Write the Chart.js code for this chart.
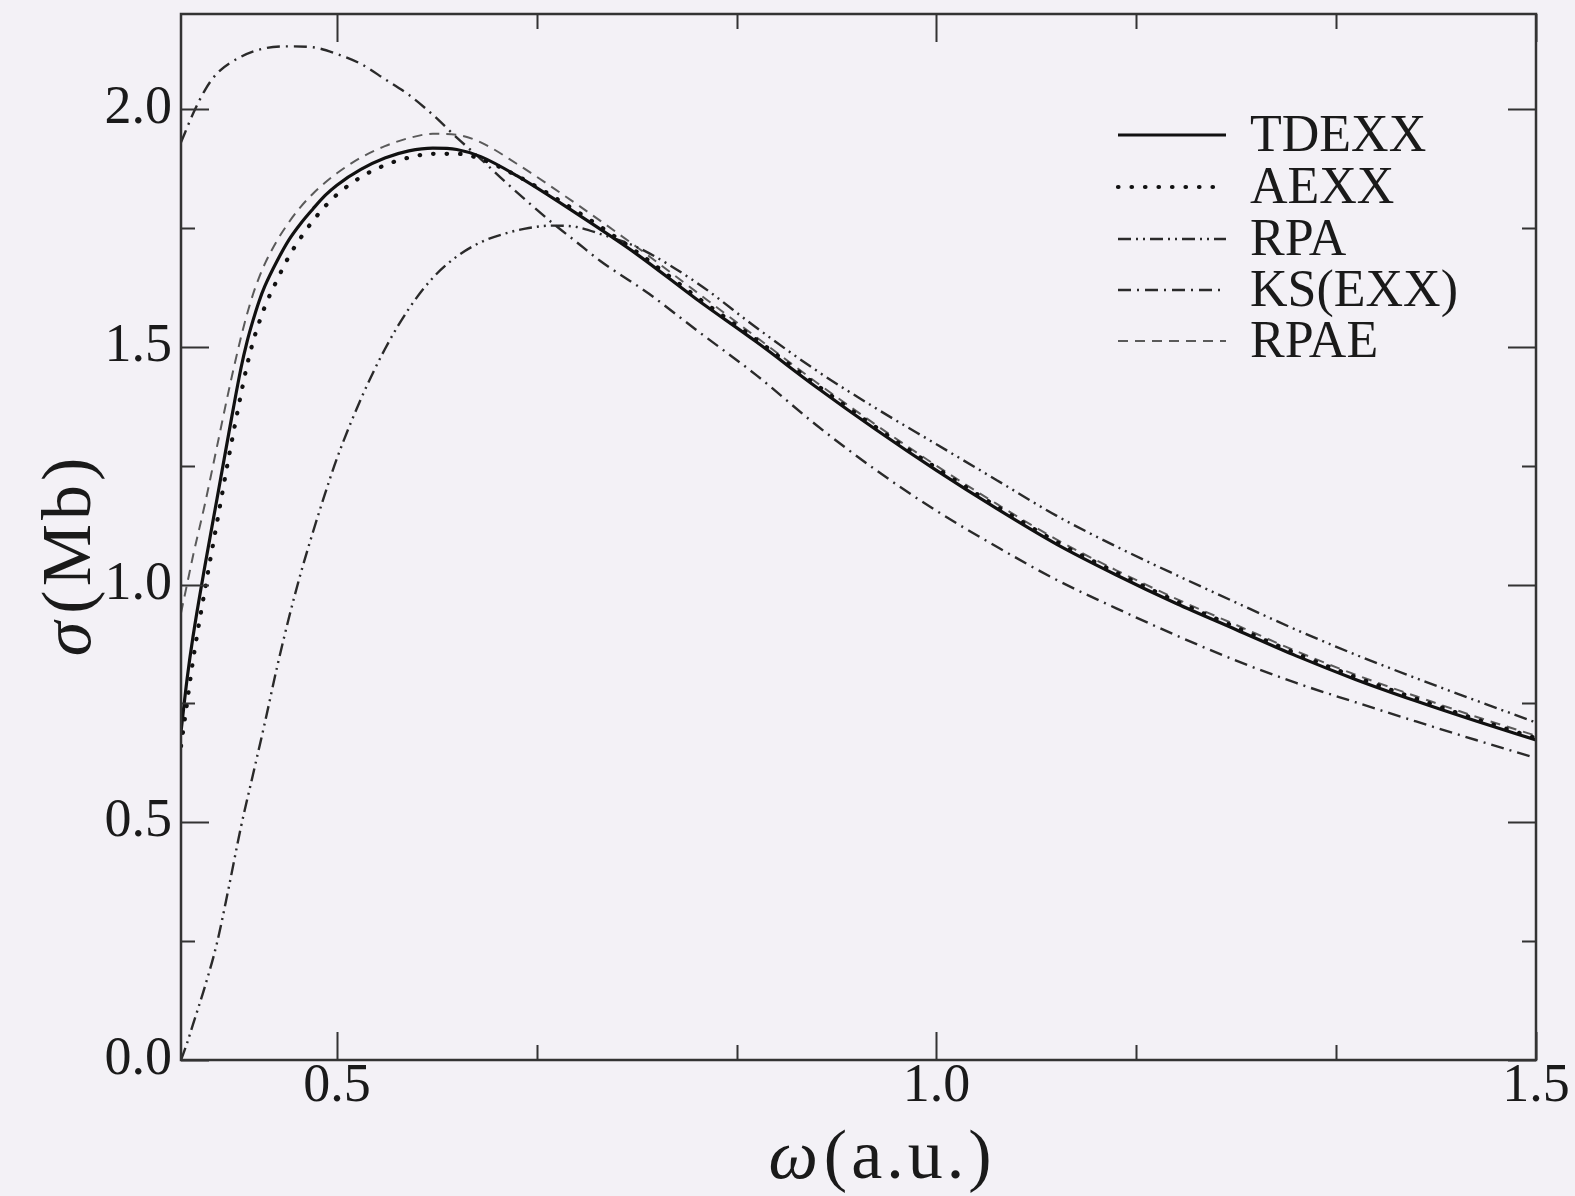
<!DOCTYPE html>
<html>
<head>
<meta charset="utf-8">
<title>Photoionization cross section</title>
<script src="https://cdn.jsdelivr.net/npm/chart.js@4.4.0/dist/chart.umd.min.js"></script>
<style>
  html, body { margin: 0; padding: 0; background: #f3f1f6; }
  canvas { display: block; }
</style>
</head>
<body>
<canvas id="chart" width="1575" height="1196"></canvas>
<script>
// photon energy grid (a.u.) and cross sections (Mb)
const wGrid = [0.37, 0.375, 0.38, 0.39, 0.40, 0.41, 0.42, 0.425, 0.43, 0.435, 0.44, 0.45, 0.46, 0.47, 0.48, 0.49, 0.50, 0.52, 0.54, 0.56, 0.58, 0.60, 0.62, 0.65, 0.70, 0.75, 0.80, 0.85, 0.90, 0.95, 1.00, 1.05, 1.10, 1.15, 1.20, 1.25, 1.30, 1.35, 1.40, 1.45, 1.50];
const sTDEXX = [0.69, 0.80, 0.89, 1.04, 1.18, 1.32, 1.455, 1.51, 1.555, 1.595, 1.628, 1.68, 1.725, 1.76, 1.79, 1.818, 1.84, 1.873, 1.897, 1.912, 1.918, 1.915, 1.90, 1.86, 1.78, 1.695, 1.60, 1.51, 1.415, 1.325, 1.24, 1.16, 1.085, 1.02, 0.96, 0.905, 0.85, 0.80, 0.755, 0.713, 0.673];
const sAEXX = [0.66, 0.75, 0.84, 0.99, 1.13, 1.27, 1.40, 1.46, 1.51, 1.55, 1.585, 1.64, 1.69, 1.73, 1.765, 1.795, 1.82, 1.857, 1.882, 1.898, 1.906, 1.906, 1.895, 1.86, 1.785, 1.70, 1.605, 1.515, 1.42, 1.33, 1.245, 1.165, 1.09, 1.025, 0.965, 0.91, 0.855, 0.805, 0.76, 0.717, 0.677];
const sRPAE = [0.94, 1.00, 1.06, 1.17, 1.29, 1.41, 1.52, 1.568, 1.61, 1.645, 1.675, 1.723, 1.762, 1.795, 1.822, 1.845, 1.865, 1.898, 1.922, 1.939, 1.948, 1.946, 1.93, 1.885, 1.80, 1.71, 1.615, 1.52, 1.425, 1.335, 1.25, 1.17, 1.095, 1.03, 0.97, 0.915, 0.86, 0.81, 0.765, 0.722, 0.682];

const wKS = [0.37, 0.38, 0.39, 0.40, 0.42, 0.44, 0.46, 0.48, 0.50, 0.52, 0.54, 0.56, 0.58, 0.60, 0.62, 0.64, 0.66, 0.68, 0.70, 0.72, 0.76, 0.80, 0.85, 0.90, 0.95, 1.00, 1.05, 1.10, 1.15, 1.20, 1.25, 1.30, 1.35, 1.40, 1.45, 1.50];
const sKS = [1.93, 1.99, 2.04, 2.075, 2.11, 2.128, 2.132, 2.13, 2.116, 2.095, 2.063, 2.03, 1.988, 1.94, 1.895, 1.848, 1.803, 1.76, 1.72, 1.68, 1.612, 1.535, 1.44, 1.335, 1.24, 1.155, 1.08, 1.01, 0.95, 0.893, 0.84, 0.793, 0.752, 0.712, 0.673, 0.635];

const wRPA = [0.37, 0.375, 0.38, 0.39, 0.40, 0.41, 0.42, 0.43, 0.44, 0.45, 0.46, 0.47, 0.48, 0.49, 0.50, 0.52, 0.54, 0.56, 0.58, 0.60, 0.62, 0.64, 0.66, 0.68, 0.70, 0.72, 0.75, 0.80, 0.85, 0.90, 0.95, 1.00, 1.05, 1.10, 1.15, 1.20, 1.25, 1.30, 1.35, 1.40, 1.45, 1.50];
const sRPA = [0.0, 0.035, 0.075, 0.155, 0.246, 0.365, 0.49, 0.60, 0.71, 0.825, 0.93, 1.025, 1.11, 1.19, 1.265, 1.39, 1.495, 1.58, 1.645, 1.69, 1.72, 1.738, 1.75, 1.755, 1.752, 1.737, 1.71, 1.635, 1.54, 1.45, 1.37, 1.295, 1.22, 1.145, 1.08, 1.02, 0.962, 0.905, 0.852, 0.803, 0.756, 0.71];

// axis ticks
const xTickValues = [0.5, 2 / 3, 5 / 6, 1.0, 7 / 6, 4 / 3, 1.5];
const xTickLabels = [0.5, 1.0, 1.5];
const yTickValues = [0, 0.25, 0.5, 0.75, 1.0, 1.25, 1.5, 1.75, 2.0];
const yTickLabels = [0, 0.5, 1.0, 1.5, 2.0];

const pts = (xs, ys) => xs.map((x, i) => ({ x: x, y: ys[i] }));
const serif = "'Liberation Serif', 'Times New Roman', serif";

// background colour
const bgPlugin = {
    id: 'bg',
    beforeDraw(chart) {
        const c = chart.ctx;
        c.save();
        c.fillStyle = '#f3f1f6';
        c.fillRect(0, 0, chart.width, chart.height);
        c.restore();
    }
};

// box round the plot with ticks pointing inwards on all four sides
const framePlugin = {
    id: 'frame',
    afterDatasetsDraw(chart) {
        const c = chart.ctx;
        const a = chart.chartArea;
        const xs = chart.scales.x, ys = chart.scales.y;
        c.save();
        c.strokeStyle = '#333';
        c.lineWidth = 2;
        xTickValues.forEach(v => {
            const px = Math.round(xs.getPixelForValue(v)) + 0.5;
            const len = xTickLabels.some(m => Math.abs(m - v) < 1e-6) ? 28 : 15;
            c.beginPath();
            c.moveTo(px, a.bottom); c.lineTo(px, a.bottom - len);
            c.moveTo(px, a.top); c.lineTo(px, a.top + len);
            c.stroke();
        });
        yTickValues.forEach(v => {
            const py = Math.round(ys.getPixelForValue(v)) + 0.5;
            const len = yTickLabels.some(m => Math.abs(m - v) < 1e-6) ? 28 : 14;
            c.beginPath();
            c.moveTo(a.left, py); c.lineTo(a.left + len, py);
            c.moveTo(a.right, py); c.lineTo(a.right - len, py);
            c.stroke();
        });
        c.lineWidth = 2.5;
        c.strokeRect(a.left, a.top, a.right - a.left, a.bottom - a.top);
        c.restore();
    }
};

// legend in the upper right corner of the plot
const legendPlugin = {
    id: 'innerLegend',
    afterDraw(chart) {
        const c = chart.ctx;
        const x0 = 1118, x1 = 1226, tx = 1250;
        const rows = [135, 187, 239, 290, 341];
        c.save();
        chart.data.datasets.forEach((ds, i) => {
            const y = rows[i];
            c.strokeStyle = ds.borderColor;
            c.lineWidth = ds.borderWidth;
            c.lineCap = ds.borderCapStyle || 'butt';
            c.setLineDash(ds.borderDash || []);
            c.beginPath();
            c.moveTo(x0, y); c.lineTo(x1, y);
            c.stroke();
            c.setLineDash([]);
            c.fillStyle = '#1a1a1a';
            c.font = '52px ' + serif;
            c.textBaseline = 'middle';
            c.textAlign = 'left';
            c.fillText(ds.label, tx, y + 2);
        });
        c.restore();
    }
};

// axis titles: greek letter in italic, unit upright
const titlePlugin = {
    id: 'titles',
    afterDraw(chart) {
        const c = chart.ctx;
        c.save();
        c.fillStyle = '#1a1a1a';
        c.textBaseline = 'middle';
        c.textAlign = 'left';
        c.letterSpacing = '4px';
        const italic = 'italic 70px ' + serif, upright = '70px ' + serif;

        // x title
        c.font = italic; const wa = c.measureText('\u03c9').width;
        c.font = upright; const wb = c.measureText('(a.u.)').width;
        let sx = 881 - (wa + wb) / 2;
        c.font = italic; c.fillText('\u03c9', sx, 1160);
        c.font = upright; c.fillText('(a.u.)', sx + wa + 2, 1160);

        // y title, rotated
        c.translate(72, 555);
        c.rotate(-Math.PI / 2);
        c.font = italic; const wc = c.measureText('\u03c3').width;
        c.font = upright; const wd = c.measureText('(Mb)').width;
        sx = -(wc + wd + 4) / 2;
        c.font = italic; c.fillText('\u03c3', sx, 0);
        c.font = upright; c.fillText('(Mb)', sx + wc + 4, 0);
        c.restore();
    }
};

const ctx = document.getElementById('chart').getContext('2d');
const chart = new Chart(ctx, {
    type: 'line',
    data: {
        datasets: [
            { label: 'TDEXX', data: pts(wGrid, sTDEXX), borderColor: '#111', borderWidth: 3.2, borderDash: [] },
            { label: 'AEXX', data: pts(wGrid, sAEXX), borderColor: '#111', borderWidth: 4.2, borderDash: [0.5, 13], borderCapStyle: 'round' },
            { label: 'RPA', data: pts(wRPA, sRPA), borderColor: '#2a2a2a', borderWidth: 2.4, borderDash: [13, 5, 2, 5, 2, 5] },
            { label: 'KS(EXX)', data: pts(wKS, sKS), borderColor: '#2a2a2a', borderWidth: 2.4, borderDash: [13, 6, 2, 6] },
            { label: 'RPAE', data: pts(wGrid, sRPAE), borderColor: '#5a5a5a', borderWidth: 2, borderDash: [10, 7] }
        ]
    },
    options: {
        responsive: false,
        animation: false,
        layout: { padding: { top: 14, right: 39, left: 0, bottom: 0 } },
        elements: {
            point: { radius: 0 },
            line: { cubicInterpolationMode: 'monotone', fill: false }
        },
        plugins: {
            legend: { display: false },
            tooltip: { enabled: false }
        },
        scales: {
            x: {
                type: 'linear',
                min: 0.37,
                max: 1.5,
                grid: { display: false, drawTicks: false },
                border: { display: false },
                afterBuildTicks: s => { s.ticks = xTickLabels.map(v => ({ value: v })); },
                afterFit: s => { s.height = 136; s.paddingLeft = 0; s.paddingRight = 0; },
                ticks: {
                    autoSkip: false,
                    maxRotation: 0,
                    padding: 0,
                    color: '#1a1a1a',
                    font: { family: serif, size: 54, lineHeight: 1 },
                    callback: v => v.toFixed(1)
                }
            },
            y: {
                min: 0,
                max: 2.2,
                grid: { display: false, drawTicks: false },
                border: { display: false },
                afterBuildTicks: s => { s.ticks = yTickLabels.map(v => ({ value: v })); },
                afterFit: s => { s.width = 181; s.paddingTop = 0; s.paddingBottom = 0; },
                ticks: {
                    padding: 9,
                    color: '#1a1a1a',
                    font: { family: serif, size: 54 },
                    callback: v => v.toFixed(1)
                }
            }
        }
    },
    plugins: [bgPlugin, framePlugin, legendPlugin, titlePlugin]
});
</script>
</body>
</html>
